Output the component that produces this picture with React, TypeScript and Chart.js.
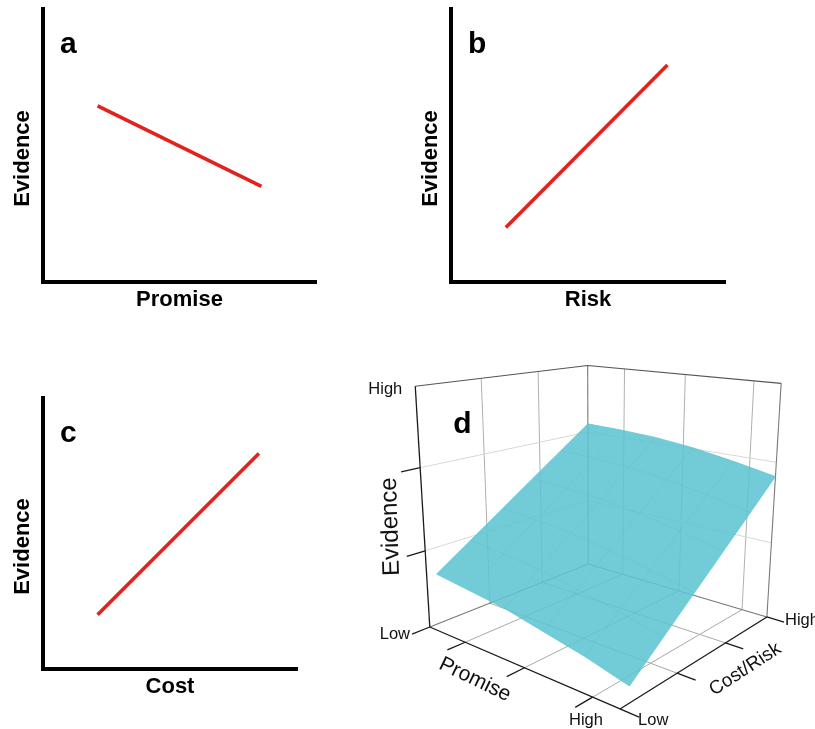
import React, { useEffect, useRef } from 'react';
import { Chart, registerables } from 'chart.js';

Chart.register(...registerables);

const FONT = "'Liberation Sans', Arial, Helvetica, sans-serif";
const RED = '#e3211d';

// ---------- Panels a–c: simple relationships ----------
const promiseA = [2, 8];
const evidenceA = [6.45, 3.5];
const riskB = [2, 7.9];
const evidenceB = [2.0, 7.95];
const costC = [2.15, 8.5];
const evidenceC = [2.0, 7.95];

// ---------- Panel d: Evidence surface over Promise × Cost/Risk (0 = Low, 1 = High) ----------
const surfacePromise = [0, 0.2, 0.4, 0.6, 0.8, 1];
const surfaceCostRisk = [0.05, 0.24, 0.43, 0.62, 0.81, 1];
const surfaceEvidence = [
  [0.22, 0.32, 0.42, 0.52, 0.62, 0.72],
  [0.2, 0.303, 0.406, 0.509, 0.612, 0.715],
  [0.18, 0.285, 0.39, 0.495, 0.6, 0.705],
  [0.145, 0.253, 0.361, 0.469, 0.577, 0.685],
  [0.11, 0.219, 0.328, 0.437, 0.546, 0.655],
  [0.065, 0.176, 0.287, 0.398, 0.509, 0.62],
];
const promiseTicks = [0.22, 0.55, 0.88];
const costRiskTicks = [0, 1 / 3, 2 / 3, 1];
const evidenceTicks = [0, 0.335, 0.68];
const evidenceGridLines = [0.335, 0.68];
const levelLabels = ['Low', 'High'];

// screen position of the visible 3D box corners: [promise, cost/risk, evidence] -> [x, y]
const BOX_CORNERS: [number[], number[]][] = [
  [[0, 0, 0], [430, 628]],
  [[1, 0, 0], [620, 708]],
  [[0, 1, 0], [588, 563]],
  [[1, 1, 0], [767, 618]],
  [[0, 0, 1], [415, 386]],
  [[0, 1, 1], [588, 366]],
  [[1, 1, 1], [781, 383]],
];

// fit a perspective camera (3x4 projection, DLT least squares) to the box corners
function fitCamera() {
  const rows: number[][] = [];
  const rhs: number[] = [];
  for (const [[X, Y, Z], [u0, v0]] of BOX_CORNERS) {
    const u = (u0 - 600) / 200;
    const v = (v0 - 550) / 200;
    rows.push([X, Y, Z, 1, 0, 0, 0, 0, -u * X, -u * Y, -u * Z]);
    rhs.push(u);
    rows.push([0, 0, 0, 0, X, Y, Z, 1, -v * X, -v * Y, -v * Z]);
    rhs.push(v);
  }
  const N = 11;
  const A = Array.from({ length: N }, () => new Array(N + 1).fill(0));
  for (let r = 0; r < rows.length; r++) {
    for (let i = 0; i < N; i++) {
      for (let j = 0; j < N; j++) A[i][j] += rows[r][i] * rows[r][j];
      A[i][N] += rows[r][i] * rhs[r];
    }
  }
  for (let col = 0; col < N; col++) {
    let piv = col;
    for (let r = col + 1; r < N; r++) if (Math.abs(A[r][col]) > Math.abs(A[piv][col])) piv = r;
    [A[col], A[piv]] = [A[piv], A[col]];
    for (let r = 0; r < N; r++) {
      if (r === col) continue;
      const f = A[r][col] / A[col][col];
      for (let k = col; k <= N; k++) A[r][k] -= f * A[col][k];
    }
  }
  return A.map((row, i) => row[N] / row[i]);
}
const CAM = fitCamera();

function project(p: number, c: number, e: number) {
  const w = CAM[8] * p + CAM[9] * c + CAM[10] * e + 1;
  const u = (CAM[0] * p + CAM[1] * c + CAM[2] * e + CAM[3]) / w;
  const v = (CAM[4] * p + CAM[5] * c + CAM[6] * e + CAM[7]) / w;
  return { x: u * 200 + 600, y: v * 200 + 550 };
}

function panelDecor(letter: string) {
  return {
    id: 'panelDecor',
    afterDraw(chart: any) {
      const { ctx, chartArea: a } = chart;
      ctx.save();
      ctx.fillStyle = '#000';
      ctx.font = `bold 30px ${FONT}`;
      ctx.textAlign = 'left';
      ctx.textBaseline = 'alphabetic';
      ctx.fillText(letter, a.left + 17, a.top + 44);
      ctx.translate(a.left - 20, (a.top + a.bottom) / 2 + 13);
      ctx.rotate(-Math.PI / 2);
      ctx.font = `bold 22px ${FONT}`;
      ctx.textAlign = 'center';
      ctx.textBaseline = 'middle';
      ctx.fillText('Evidence', 0, 0);
      ctx.restore();
    },
  };
}

function lineConfig(xs: number[], ys: number[], xTitle: string, letter: string, pad: any) {
  return {
    type: 'line',
    data: {
      datasets: [
        {
          data: xs.map((x, i) => ({ x, y: ys[i] })),
          borderColor: RED,
          borderWidth: 3.6,
          pointRadius: 0,
          pointHoverRadius: 0,
          fill: false,
        },
      ],
    },
    options: {
      responsive: false,
      animation: false,
      events: [],
      layout: { padding: pad },
      plugins: { legend: { display: false }, tooltip: { enabled: false } },
      scales: {
        x: {
          type: 'linear', min: 0, max: 10,
          grid: { display: false, drawTicks: false },
          border: { display: true, color: '#000', width: 4 },
          ticks: { display: false },
          title: {
            display: true, text: xTitle, color: '#000',
            font: { family: FONT, size: 22, weight: 'bold' },
            padding: { top: 5, bottom: 0 },
          },
        },
        y: {
          type: 'linear', min: 0, max: 10,
          grid: { display: false, drawTicks: false },
          border: { display: true, color: '#000', width: 4 },
          ticks: { display: false },
        },
      },
    },
    plugins: [panelDecor(letter)],
  };
}

function surfaceConfig() {
  const datasets: any[] = [];
  const seg = (pts: number[][], color: string, width: number, order: number, extra: any = {}) => {
    datasets.push({
      data: pts.map(([p, c, e]) => project(p, c, e)),
      borderColor: color,
      borderWidth: width,
      pointRadius: 0,
      pointHoverRadius: 0,
      fill: false,
      order,
      ...extra,
    });
  };
  const innerCost = costRiskTicks.slice(1, -1);
  // wall grid lines
  evidenceGridLines.forEach((e) => {
    seg([[0, 0, e], [0, 1, e]], '#d8d8d8', 1, 10);
    seg([[0, 1, e], [1, 1, e]], '#d8d8d8', 1, 10);
  });
  innerCost.forEach((c) => {
    seg([[0, c, 0], [0, c, 1]], '#b0b0b0', 1, 10);
    seg([[0, c, 0], [1, c, 0]], '#a8a8a8', 1, 10);
  });
  promiseTicks.forEach((p) => {
    seg([[p, 1, 0], [p, 1, 1]], '#b0b0b0', 1, 10);
    seg([[p, 0, 0], [p, 1, 0]], '#a8a8a8', 1, 10);
  });
  // box edges
  seg([[0, 1, 0], [0, 1, 1]], '#7a7a7a', 1.1, 9);
  seg([[1, 1, 0], [1, 1, 1]], '#7a7a7a', 1.1, 9);
  seg([[0, 0, 1], [0, 1, 1], [1, 1, 1]], '#555', 1.2, 9);
  seg([[0, 0, 0], [0, 1, 0], [1, 1, 0]], '#777', 1.1, 9);
  // surface
  const n = surfacePromise.length;
  const m = surfaceCostRisk.length;
  const P = (i: number, j: number) => [surfacePromise[i], surfaceCostRisk[j], surfaceEvidence[i][j]];
  const outline: number[][] = [];
  for (let i = 0; i < n; i++) outline.push(P(i, 0));
  for (let j = 1; j < m; j++) outline.push(P(n - 1, j));
  for (let i = n - 2; i >= 0; i--) outline.push(P(i, m - 1));
  for (let j = m - 2; j >= 0; j--) outline.push(P(0, j));
  seg(outline, 'rgba(95,197,210,0.9)', 0.8, 5, {
    fill: 'shape',
    backgroundColor: 'rgba(95,197,210,0.88)',
  });
  for (let i = 1; i < n - 1; i++) {
    const row: number[][] = [];
    for (let j = 0; j < m; j++) row.push(P(i, j));
    seg(row, 'rgba(60,150,165,0.13)', 0.8, 4);
  }
  for (let j = 1; j < m - 1; j++) {
    const col: number[][] = [];
    for (let i = 0; i < n; i++) col.push(P(i, j));
    seg(col, 'rgba(60,150,165,0.13)', 0.8, 4);
  }
  // front axes and ticks
  const K = '#1a1a1a';
  seg([[0, 0, 0], [0, 0, 1]], K, 1.3, 1);
  seg([[0, 0, 0], [1, 0, 0]], K, 1.3, 1);
  seg([[1, 0, 0], [1, 1, 0]], K, 1.3, 1);
  evidenceTicks.forEach((e) => seg([[0, 0, e], [0, -0.09, e]], K, 1.3, 1));
  promiseTicks.forEach((p) => seg([[p, 0, 0], [p, -0.09, 0]], K, 1.3, 1));
  costRiskTicks.forEach((c) => seg([[1, c, 0], [1.08, c, 0]], K, 1.3, 1));

  const textPlugin = {
    id: 'surfaceText',
    afterDraw(chart: any) {
      const { ctx } = chart;
      const xs = chart.scales.x;
      const ys = chart.scales.y;
      const at = (p: number, c: number, e: number) => {
        const q = project(p, c, e);
        return [xs.getPixelForValue(q.x), ys.getPixelForValue(q.y)];
      };
      const put = (
        text: string, anchor: number[], dx: number, dy: number,
        font: string, align: string, rot = 0,
      ) => {
        ctx.save();
        ctx.translate(anchor[0] + dx, anchor[1] + dy);
        ctx.rotate(rot);
        ctx.font = font;
        ctx.fillStyle = '#111';
        ctx.textAlign = align;
        ctx.textBaseline = 'middle';
        ctx.fillText(text, 0, 0);
        ctx.restore();
      };
      const small = `16.5px ${FONT}`;
      put(levelLabels[0], at(0, -0.09, 0), -2, 0, small, 'right');
      put(levelLabels[1], at(0, 0, 1), -13, 3, small, 'right');
      put(levelLabels[1], at(1, 0, 0), -34, 12, small, 'center');
      put(levelLabels[0], at(1.08, 0, 0), -1, 3, small, 'left');
      put(levelLabels[1], at(1.08, 1, 0), 1, -2, small, 'left');
      put('Evidence', at(0, 0, 0.5), -32, 15, `24px ${FONT}`, 'center', -Math.PI / 2 - 0.03);
      put('Promise', at(0.5, 0, 0), -40, 16, `21px ${FONT}`, 'center', 0.45);
      put('Cost/Risk', at(1, 0.5, 0), 43, 12, `19px ${FONT}`, 'center', -0.58);
      ctx.save();
      ctx.font = `bold 30px ${FONT}`;
      ctx.fillStyle = '#000';
      ctx.textAlign = 'left';
      ctx.textBaseline = 'alphabetic';
      const d = at(0, 0, 1);
      ctx.fillText('d', d[0] + 38, d[1] + 47);
      ctx.restore();
    },
  };

  return {
    type: 'line',
    data: { datasets },
    options: {
      responsive: false,
      animation: false,
      events: [],
      layout: { padding: 0 },
      plugins: { legend: { display: false }, tooltip: { enabled: false } },
      scales: {
        x: { type: 'linear', min: 360, max: 815, display: false },
        y: { type: 'linear', min: 330, max: 729, reverse: true, display: false },
      },
    },
    plugins: [textPlugin],
  };
}

function ChartCanvas({ left, top, width, height, make }: any) {
  const ref = useRef<HTMLCanvasElement | null>(null);
  useEffect(() => {
    const chart = new Chart(ref.current as HTMLCanvasElement, make());
    return () => chart.destroy();
  }, []);
  return (
    <canvas
      ref={ref}
      width={width}
      height={height}
      style={{ position: 'absolute', left, top, width, height }}
    />
  );
}

export default function App() {
  return (
    <div style={{ position: 'absolute', left: 0, top: 0, width: 815, height: 729, background: '#fff', overflow: 'hidden' }}>
      <ChartCanvas
        left={0} top={0} width={340} height={330}
        make={() => lineConfig(promiseA, evidenceA, 'Promise', 'a', { left: 43, top: 9, right: 24, bottom: 16.6 })}
      />
      <ChartCanvas
        left={400} top={0} width={415} height={330}
        make={() => lineConfig(riskB, evidenceB, 'Risk', 'b', { left: 51, top: 9, right: 90, bottom: 16.6 })}
      />
      <ChartCanvas
        left={0} top={380} width={340} height={349}
        make={() => lineConfig(costC, evidenceC, 'Cost', 'c', { left: 43, top: 18, right: 43, bottom: 28.6 })}
      />
      <ChartCanvas left={360} top={330} width={455} height={399} make={surfaceConfig} />
    </div>
  );
}
